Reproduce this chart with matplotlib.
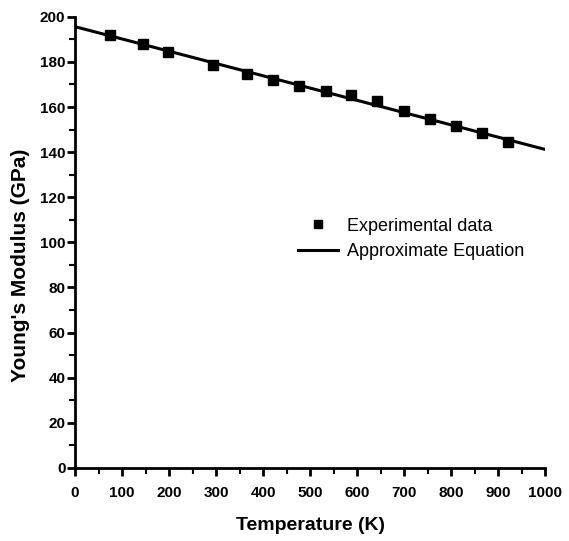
import numpy as np
import matplotlib
matplotlib.use("Agg")
import matplotlib.pyplot as plt
from matplotlib.ticker import MultipleLocator

temps = [75, 145, 198, 294, 366, 422, 477, 533, 587, 643, 700, 755, 810, 865, 920]
modulus = [191.7, 187.9, 184.3, 178.7, 174.7, 171.8, 169.4, 166.9, 165.4, 162.8, 158.3, 154.8, 151.4, 148.4, 144.7]

# approximate equation, drawn from its end points
fit_t = [0, 1000]
fit_e = [195.6, 141.2]

plt.rcParams['font.family'] = ['Liberation Sans Narrow', 'Liberation Sans', 'DejaVu Sans']

fig = plt.figure(figsize=(5.69, 5.41), dpi=100)
ax = fig.add_axes([0.132, 0.135, 0.826, 0.834])

ax.plot(fit_t, fit_e, color='black', lw=2.2, label='Approximate Equation', zorder=2)
ax.plot(temps, modulus, 's', color='black', ms=7, label='Experimental data', zorder=3)

ax.set_xlim(0, 1000)
ax.set_ylim(0, 200)
ax.xaxis.set_major_locator(MultipleLocator(100))
ax.xaxis.set_minor_locator(MultipleLocator(50))
ax.yaxis.set_major_locator(MultipleLocator(20))
ax.yaxis.set_minor_locator(MultipleLocator(10))

for side in ['top', 'right']:
    ax.spines[side].set_visible(False)
for side in ['left', 'bottom']:
    ax.spines[side].set_linewidth(2)

ax.tick_params(which='major', direction='out', length=6, width=2, labelsize=11)
ax.tick_params(axis='x', which='major', pad=7)
ax.tick_params(axis='y', which='major', pad=1)
ax.tick_params(which='minor', direction='out', length=4, width=1.5)
for lab in ax.get_xticklabels() + ax.get_yticklabels():
    lab.set_fontweight('bold')

ax.set_xlabel('Temperature (K)', fontsize=14, fontweight='bold', labelpad=12)
ax.set_ylabel("Young's Modulus (GPa)", fontsize=15, fontweight='bold')
ax.yaxis.set_label_coords(-0.095, 0.45)

handles, labels = ax.get_legend_handles_labels()
ax.legend(handles[::-1], labels[::-1], loc='center left', bbox_to_anchor=(0.44, 0.508),
          frameon=False, fontsize=13, handlelength=2.2, handletextpad=0.5,
          markerscale=0.9, labelspacing=0.45)

fig.savefig('out.png', dpi=100)
